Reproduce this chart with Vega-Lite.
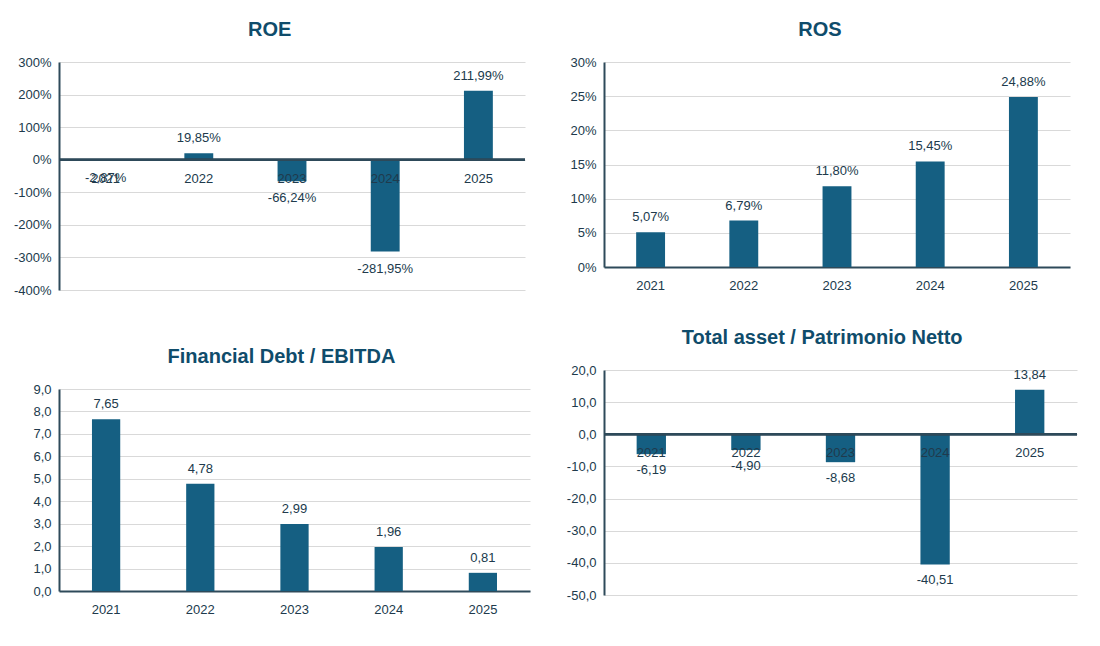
{
  "$schema": "https://vega.github.io/schema/vega-lite/v6.json",
  "datasets": {
    "roe": [
      {"year": "2021", "value": -0.0287},
      {"year": "2022", "value": 0.1985},
      {"year": "2023", "value": -0.6624},
      {"year": "2024", "value": -2.8195},
      {"year": "2025", "value": 2.1199}
    ],
    "ros": [
      {"year": "2021", "value": 0.0507},
      {"year": "2022", "value": 0.0679},
      {"year": "2023", "value": 0.118},
      {"year": "2024", "value": 0.1545},
      {"year": "2025", "value": 0.2488}
    ],
    "fd": [
      {"year": "2021", "value": 7.65},
      {"year": "2022", "value": 4.78},
      {"year": "2023", "value": 2.99},
      {"year": "2024", "value": 1.96},
      {"year": "2025", "value": 0.81}
    ],
    "ta": [
      {"year": "2021", "value": -6.19},
      {"year": "2022", "value": -4.9},
      {"year": "2023", "value": -8.68},
      {"year": "2024", "value": -40.51},
      {"year": "2025", "value": 13.84}
    ]
  },
  "padding": {"left": 13, "top": 20, "right": 10, "bottom": 10},
  "spacing": 36,
  "hconcat": [
    {
      "spacing": 50,
      "vconcat": [
        {
          "width": 466,
          "height": 228,
          "title": "ROE",
          "data": {"name": "roe"},
          "layer": [
            {
              "mark": {"type": "bar", "color": "#155F82", "width": {"band": 0.31}},
              "encoding": {
                "x": {"field": "year", "type": "nominal", "axis": null, "scale": {"paddingInner": 0, "paddingOuter": 0}},
                "y": {
                  "field": "value",
                  "type": "quantitative",
                  "title": null,
                  "scale": {"domain": [-4, 3], "nice": false},
                  "axis": {"values": [-4, -3, -2, -1, 0, 1, 2, 3], "tickCount": 20, "format": ".0%", "labelOverlap": false}
                }
              }
            },
            {
              "mark": {"type": "rule", "color": "#2E4A5A", "strokeWidth": 2},
              "encoding": {"y": {"datum": 0}}
            },
            {
              "mark": {"type": "text", "dy": 19, "fontSize": 13, "color": "#203A4C"},
              "encoding": {
                "x": {"field": "year", "type": "nominal"},
                "y": {"datum": 0},
                "text": {"field": "year"}
              }
            },
            {
              "transform": [{"filter": "datum.value >= 0"}],
              "mark": {"type": "text", "dy": -15, "fontSize": 13, "color": "#203A4C"},
              "encoding": {
                "x": {"field": "year", "type": "nominal"},
                "y": {"field": "value", "type": "quantitative"},
                "text": {"field": "value", "format": ".2%"}
              }
            },
            {
              "transform": [{"filter": "datum.value < 0"}],
              "mark": {"type": "text", "dy": 17, "fontSize": 13, "color": "#203A4C"},
              "encoding": {
                "x": {"field": "year", "type": "nominal"},
                "y": {"field": "value", "type": "quantitative"},
                "text": {"field": "value", "format": ".2%"}
              }
            }
          ]
        },
        {
          "width": 471,
          "height": 202,
          "title": "Financial Debt / EBITDA",
          "data": {"name": "fd"},
          "layer": [
            {
              "mark": {"type": "bar", "color": "#155F82", "width": {"band": 0.3}},
              "encoding": {
                "x": {"field": "year", "type": "nominal", "title": null, "axis": {"labelAngle": 0}, "scale": {"paddingInner": 0, "paddingOuter": 0}},
                "y": {
                  "field": "value",
                  "type": "quantitative",
                  "title": null,
                  "scale": {"domain": [0, 9], "nice": false},
                  "axis": {"values": [0, 1, 2, 3, 4, 5, 6, 7, 8, 9], "tickCount": 20, "format": ".1f", "labelOverlap": false}
                }
              }
            },
            {
              "mark": {"type": "text", "dy": -15, "fontSize": 13, "color": "#203A4C"},
              "encoding": {
                "x": {"field": "year", "type": "nominal"},
                "y": {"field": "value", "type": "quantitative"},
                "text": {"field": "value", "format": ".2f"}
              }
            }
          ]
        }
      ]
    },
    {
      "spacing": 36,
      "vconcat": [
        {
          "width": 466,
          "height": 205,
          "title": "ROS",
          "data": {"name": "ros"},
          "layer": [
            {
              "mark": {"type": "bar", "color": "#155F82", "width": {"band": 0.31}},
              "encoding": {
                "x": {"field": "year", "type": "nominal", "title": null, "axis": {"labelAngle": 0}, "scale": {"paddingInner": 0, "paddingOuter": 0}},
                "y": {
                  "field": "value",
                  "type": "quantitative",
                  "title": null,
                  "scale": {"domain": [0, 0.3], "nice": false},
                  "axis": {"values": [0, 0.05, 0.1, 0.15, 0.2, 0.25, 0.3], "tickCount": 20, "format": ".0%", "labelOverlap": false}
                }
              }
            },
            {
              "mark": {"type": "text", "dy": -15, "fontSize": 13, "color": "#203A4C"},
              "encoding": {
                "x": {"field": "year", "type": "nominal"},
                "y": {"field": "value", "type": "quantitative"},
                "text": {"field": "value", "format": ".2%"}
              }
            }
          ]
        },
        {
          "width": 473,
          "height": 225,
          "title": "Total asset /  Patrimonio Netto",
          "data": {"name": "ta"},
          "layer": [
            {
              "mark": {"type": "bar", "color": "#155F82", "width": {"band": 0.31}},
              "encoding": {
                "x": {"field": "year", "type": "nominal", "axis": null, "scale": {"paddingInner": 0, "paddingOuter": 0}},
                "y": {
                  "field": "value",
                  "type": "quantitative",
                  "title": null,
                  "scale": {"domain": [-50, 20], "nice": false},
                  "axis": {"values": [-50, -40, -30, -20, -10, 0, 10, 20], "tickCount": 20, "format": ".1f", "labelOverlap": false}
                }
              }
            },
            {
              "mark": {"type": "rule", "color": "#2E4A5A", "strokeWidth": 2},
              "encoding": {"y": {"datum": 0}}
            },
            {
              "mark": {"type": "text", "dy": 19, "fontSize": 13, "color": "#203A4C"},
              "encoding": {
                "x": {"field": "year", "type": "nominal"},
                "y": {"datum": 0},
                "text": {"field": "year"}
              }
            },
            {
              "transform": [{"filter": "datum.value >= 0"}],
              "mark": {"type": "text", "dy": -15, "fontSize": 13, "color": "#203A4C"},
              "encoding": {
                "x": {"field": "year", "type": "nominal"},
                "y": {"field": "value", "type": "quantitative"},
                "text": {"field": "value", "format": ".2f"}
              }
            },
            {
              "transform": [{"filter": "datum.value < 0"}],
              "mark": {"type": "text", "dy": 16, "fontSize": 13, "color": "#203A4C"},
              "encoding": {
                "x": {"field": "year", "type": "nominal"},
                "y": {"field": "value", "type": "quantitative"},
                "text": {"field": "value", "format": ".2f"}
              }
            }
          ]
        }
      ]
    }
  ],
  "config": {
    "locale": {
      "number": {"decimal": ",", "thousands": ".", "grouping": [3], "currency": ["€", ""], "minus": "-"}
    },
    "font": "Liberation Sans",
    "view": {"stroke": null},
    "axis": {
      "labelFont": "Liberation Sans",
      "labelFontSize": 13,
      "labelColor": "#203A4C",
      "labelFlush": false,
      "gridColor": "#D9D9D9",
      "gridWidth": 1,
      "domainColor": "#2E4A5A",
      "domainWidth": 2,
      "ticks": false,
      "labelPadding": 8
    },
    "axisX": {"labelPadding": 12, "labelFontSize": 13},
    "title": {
      "font": "Liberation Sans",
      "fontSize": 20,
      "fontWeight": "bold",
      "color": "#0F4C6B",
      "frame": "bounds",
      "offset": 16
    }
  }
}
